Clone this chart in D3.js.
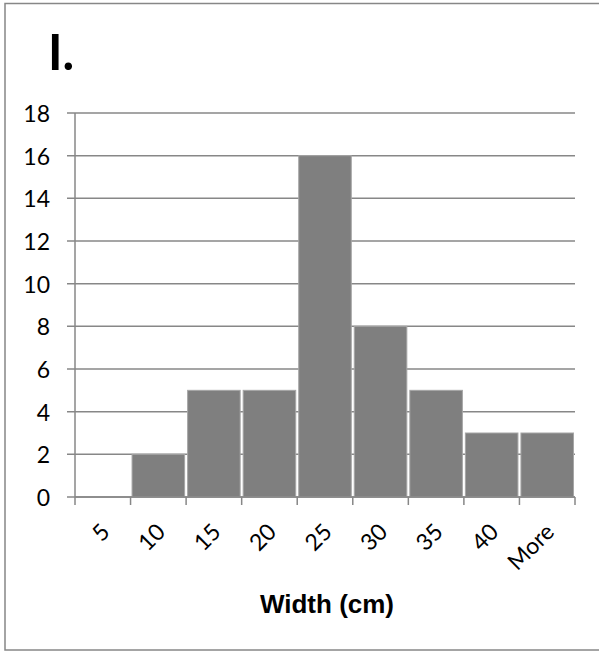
<!DOCTYPE html>
<html>
<head>
<meta charset="utf-8">
<script src="https://cdn.jsdelivr.net/npm/d3@7"></script>
<style>
  html, body { margin: 0; padding: 0; background: #fff; }
  svg { display: block; }
</style>
</head>
<body>
<svg id="chart" width="599" height="651"></svg>
<script>
// Histogram of widths: bin labels and counts
const bins = ["5", "10", "15", "20", "25", "30", "35", "40", "More"];
const counts = [0, 2, 5, 5, 16, 8, 5, 3, 3];
const yTicks = [0, 2, 4, 6, 8, 10, 12, 14, 16, 18];
const panelLabel = "I.";
const xTitle = "Width (cm)";

const svg = d3.select("#chart");
const gridColor = "#878787";
const numFont = "Lato, 'Open Sans', sans-serif";
const numSize = 23;

// outer frame
svg.append("rect")
  .attr("x", 5).attr("y", 3.5)
  .attr("width", 605).attr("height", 646.5)
  .attr("fill", "none")
  .attr("stroke", gridColor)
  .attr("stroke-width", 1.5);

const plot = { left: 75, right: 575, top: 113, bottom: 497 };

const x = d3.scaleBand()
  .domain(bins)
  .range([plot.left, plot.right])
  .padding(0);

const y = d3.scaleLinear()
  .domain([0, 18])
  .range([plot.bottom, plot.top]);

// horizontal gridlines
svg.append("g")
  .selectAll("line")
  .data(yTicks)
  .join("line")
  .attr("x1", plot.left - 8)
  .attr("x2", plot.right)
  .attr("y1", d => y(d))
  .attr("y2", d => y(d))
  .attr("stroke", gridColor)
  .attr("stroke-width", 1.5);

// y tick labels
svg.append("g")
  .selectAll("text")
  .data(yTicks)
  .join("text")
  .attr("x", 50)
  .attr("y", d => y(d))
  .attr("text-anchor", "end")
  .attr("dominant-baseline", "central")
  .attr("font-family", numFont)
  .attr("font-size", numSize)
  .attr("fill", "#000")
  .text(d => d);

// bars
svg.append("g")
  .selectAll("rect")
  .data(counts.map((c, i) => ({ bin: bins[i], count: c })).filter(d => d.count > 0))
  .join("rect")
  .attr("x", d => x(d.bin) + 1.5)
  .attr("width", x.bandwidth() - 3)
  .attr("y", d => y(d.count))
  .attr("height", d => y(0) - y(d.count))
  .attr("fill", "#7f7f7f")
  .attr("stroke", "#a6a6a6")
  .attr("stroke-width", 1);

// y axis line
svg.append("line")
  .attr("x1", plot.left).attr("x2", plot.left)
  .attr("y1", plot.top).attr("y2", plot.bottom)
  .attr("stroke", gridColor)
  .attr("stroke-width", 1.5);

// x axis line and tick marks at bin edges
svg.append("line")
  .attr("x1", plot.left).attr("x2", plot.right)
  .attr("y1", plot.bottom).attr("y2", plot.bottom)
  .attr("stroke", gridColor)
  .attr("stroke-width", 1.5);

const edges = bins.map(b => x(b)).concat([x(bins[bins.length - 1]) + x.bandwidth()]);
svg.append("g")
  .selectAll("line")
  .data(edges)
  .join("line")
  .attr("x1", d => d).attr("x2", d => d)
  .attr("y1", plot.bottom).attr("y2", plot.bottom + 8)
  .attr("stroke", gridColor)
  .attr("stroke-width", 1.5);

// rotated bin labels
svg.append("g")
  .selectAll("text")
  .data(bins)
  .join("text")
  .attr("transform", d => `translate(${x(d) + x.bandwidth() / 2 + 2},${plot.bottom + 30}) rotate(-45)`)
  .attr("text-anchor", "end")
  .attr("dominant-baseline", "central")
  .attr("font-family", numFont)
  .attr("font-size", numSize)
  .attr("fill", "#000")
  .text(d => d);

// axis title
svg.append("text")
  .attr("x", 327)
  .attr("y", 613)
  .attr("text-anchor", "middle")
  .attr("font-family", "'Liberation Sans', Arial, sans-serif")
  .attr("font-weight", "bold")
  .attr("font-size", 26)
  .attr("fill", "#000")
  .text(xTitle);

// panel label
svg.append("text")
  .attr("x", 48)
  .attr("y", 70)
  .attr("font-family", "Lato, 'Open Sans', sans-serif")
  .attr("font-weight", "bold")
  .attr("font-size", 49)
  .attr("fill", "#000")
  .text(panelLabel);
</script>
</body>
</html>
